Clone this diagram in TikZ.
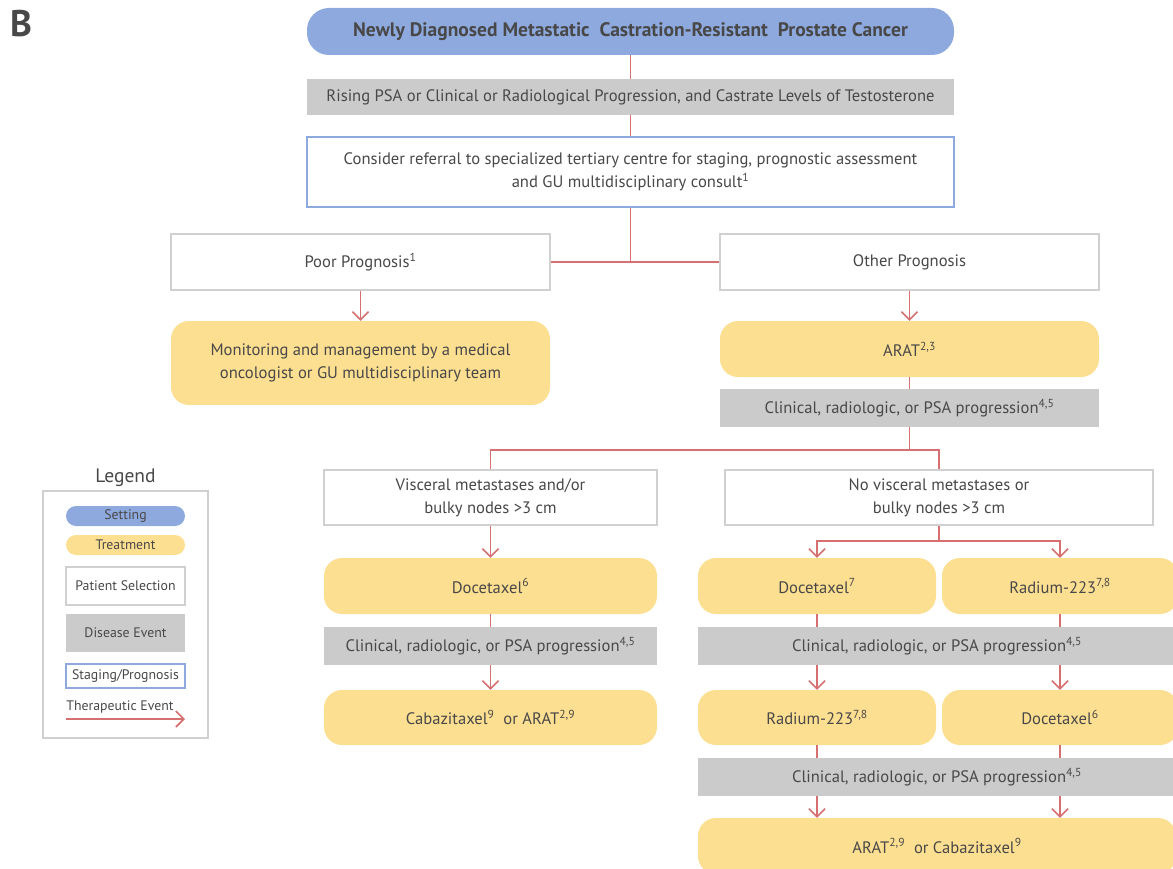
\documentclass[tikz,border=0pt]{standalone}
\usepackage{fontspec}
\setmainfont{PT Sans}
\usetikzlibrary{arrows.meta}
\definecolor{settingblue}{RGB}{142,169,221}
\definecolor{treatyellow}{RGB}{253,223,145}
\definecolor{eventgray}{RGB}{203,203,203}
\definecolor{selgray}{RGB}{208,208,208}
\definecolor{therred}{RGB}{214,112,112}
\definecolor{txtgray}{RGB}{72,72,72}
\tikzset{
  setting/.style={fill=settingblue, rounded corners=22pt, inner sep=0pt},
  treat/.style={fill=treatyellow, rounded corners=18pt, inner sep=0pt, align=center},
  select/.style={draw=selgray, line width=1.5pt, fill=white, inner sep=0pt, align=center},
  event/.style={fill=eventgray, inner sep=0pt},
  staging/.style={draw=settingblue, line width=1.5pt, fill=white, inner sep=0pt, align=center},
  ther/.style={draw=therred, line width=1.6pt},
  therarrow/.style={ther, -{Straight Barb[length=8pt,width=16pt,line width=1.6pt]}},
  legitem/.style={minimum width=119pt, font=\fontsize{13.8}{16}\selectfont}
}
\begin{document}
\begin{tikzpicture}[x=1pt,y=-1pt, font=\fontsize{16.6}{23}\selectfont, text=txtgray]
\useasboundingbox (0,0) rectangle (1173,869);
\clip (0,0) rectangle (1173,869);
\node[font=\fontsize{37}{40}\bfseries] (panel) at (21,24) {B};

% main trunk
\node[setting, minimum width=647pt, minimum height=47pt, font=\fontsize{19.5}{22}\bfseries] (top) at (630.5,31.5)
  {Newly Diagnosed Metastatic\ \ Castration-Resistant\ \ Prostate Cancer};
\node[event, minimum width=647pt, minimum height=36pt] (rise) at (630.5,97)
  {Rising PSA or Clinical or Radiological Progression, and Castrate Levels of Testosterone};
\node[staging, minimum width=647pt, minimum height=70pt] (refer) at (630.5,172)
  {Consider referral to specialized tertiary centre for staging, prognostic assessment\\
   and GU multidisciplinary consult\textsuperscript{1}};
\node[select, minimum width=379pt, minimum height=56pt] (poor) at (360.5,262) {Poor Prognosis\textsuperscript{1}};
\node[select, minimum width=379pt, minimum height=56pt] (other) at (909.5,262) {Other Prognosis};
\node[treat, minimum width=379pt, minimum height=84pt] (monitor) at (360.5,363)
  {Monitoring and management by a medical\\ oncologist or GU multidisciplinary team};
\node[treat, minimum width=379pt, minimum height=56pt] (arat) at (909.5,349) {ARAT\textsuperscript{2,3}};
\node[event, minimum width=379pt, minimum height=38pt] (prog1) at (909.5,408)
  {Clinical, radiologic, or PSA progression\textsuperscript{4,5}};

% visceral branch
\node[select, minimum width=333pt, minimum height=55pt] (visc) at (490.5,497.5)
  {Visceral metastases and/or\\ bulky nodes >3 cm};
\node[treat, minimum width=333pt, minimum height=56pt] (doceA) at (490.5,586) {Docetaxel\textsuperscript{6}};
\node[event, minimum width=333pt, minimum height=38pt] (prog2) at (490.5,646)
  {Clinical, radiologic, or PSA progression\textsuperscript{4,5}};
\node[treat, minimum width=333pt, minimum height=55pt] (caba) at (490.5,717.5)
  {Cabazitaxel\textsuperscript{9}\ \ or ARAT\textsuperscript{2,9}};

% non-visceral branch
\node[select, minimum width=428pt, minimum height=55pt] (novisc) at (939,497.5)
  {No visceral metastases or\\ bulky nodes >3 cm};
\node[treat, minimum width=238pt, minimum height=56pt] (doceB) at (817,586) {Docetaxel\textsuperscript{7}};
\node[treat, minimum width=236pt, minimum height=56pt] (radA) at (1060,586) {Radium-223\textsuperscript{7,8}};
\node[event, minimum width=478pt, minimum height=38pt] (prog3) at (937,646)
  {Clinical, radiologic, or PSA progression\textsuperscript{4,5}};
\node[treat, minimum width=238pt, minimum height=55pt] (radB) at (817,717.5) {Radium-223\textsuperscript{7,8}};
\node[treat, minimum width=236pt, minimum height=55pt] (doceC) at (1060,717.5) {Docetaxel\textsuperscript{6}};
\node[event, minimum width=478pt, minimum height=38pt] (prog4) at (937,777)
  {Clinical, radiologic, or PSA progression\textsuperscript{4,5}};
\node[treat, minimum width=478pt, minimum height=56pt] (final) at (937,846)
  {ARAT\textsuperscript{2,9}\ \ or Cabazitaxel\textsuperscript{9}};

% connectors
\coordinate (split0) at (refer.south |- poor.east);
\coordinate (split1) at (909.5,450);
\coordinate (split2) at (939,541);
\draw[ther] (top) -- (rise);
\draw[ther] (rise) -- (refer);
\draw[ther] (refer) -- (split0);
\draw[ther] (poor) -- (other);
\draw[therarrow] (poor) -- (monitor);
\draw[therarrow] (other) -- (arat);
\draw[ther] (arat) -- (prog1);
\draw[ther] (prog1) -- (split1);
\draw[ther] (visc.north) |- (split1) -| (novisc.north);
\draw[therarrow] (visc) -- (doceA);
\draw[ther] (doceA) -- (prog2);
\draw[therarrow] (prog2) -- (caba);
\draw[ther] (novisc) -- (split2);
\draw[therarrow] (split2) -| (doceB.north);
\draw[therarrow] (split2) -| (radA.north);
\draw[ther] (doceB.south) -- (doceB.south |- prog3.north);
\draw[ther] (radA.south) -- (radA.south |- prog3.north);
\draw[therarrow] (radB.north |- prog3.south) -- (radB.north);
\draw[therarrow] (doceC.north |- prog3.south) -- (doceC.north);
\draw[ther] (radB.south) -- (radB.south |- prog4.north);
\draw[ther] (doceC.south) -- (doceC.south |- prog4.north);
\draw[therarrow] (radB.south |- prog4.south) -- (radB.south |- final.north);
\draw[therarrow] (doceC.south |- prog4.south) -- (doceC.south |- final.north);

% legend
\node[font=\fontsize{19.5}{22}\selectfont] (legtitle) at (125.5,478) {Legend};
\node[draw=selgray, line width=1.5pt, minimum width=165pt, minimum height=247pt] (legend) at (125.5,614.5) {};
\node[setting, legitem, rounded corners=10pt, minimum height=20pt] (lsetting) at (125.5,516) {Setting};
\node[treat, legitem, rounded corners=10pt, minimum height=20pt] (ltreat) at (125.5,545) {Treatment};
\node[select, legitem, minimum height=38pt] (lselect) at (125.5,586) {Patient Selection};
\node[event, legitem, minimum height=38pt] (levent) at (125.5,633) {Disease Event};
\node[staging, legitem, minimum height=24pt] (lstage) at (125.5,676) {Staging/Prognosis};
\node[font=\fontsize{13.8}{16}\selectfont] (lther) at (120,707) {Therapeutic Event};
\coordinate (ltherA) at (66,719);
\coordinate (ltherB) at (185,719);
\draw[therarrow] (ltherA) -- (ltherB);
\end{tikzpicture}
\end{document}
